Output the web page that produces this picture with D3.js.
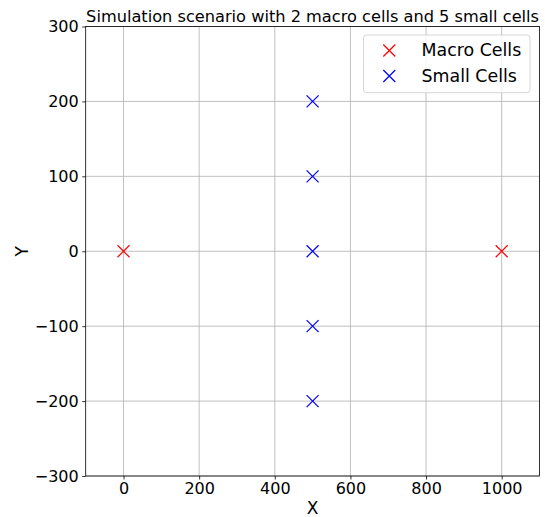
<!DOCTYPE html>
<html>
<head>
<meta charset="utf-8">
<script src="https://cdn.jsdelivr.net/npm/d3@7"></script>
<style>
  html, body { margin: 0; padding: 0; background: #fff; }
  text { font-family: "DejaVu Sans", sans-serif; }
</style>
</head>
<body>
<svg id="chart" width="545" height="517"></svg>
<script>
// Cell positions (x, y)
const macroX = [0, 1000];
const macroY = [0, 0];
const smallX = [500, 500, 500, 500, 500];
const smallY = [200, 100, 0, -100, -200];

const xTicks = [0, 200, 400, 600, 800, 1000];
const yTicks = [-300, -200, -100, 0, 100, 200, 300];

const seriesNames = ["Macro Cells", "Small Cells"];
const seriesColors = ["#ff0000", "#0000ff"];

const titleText = "Simulation scenario with 2 macro cells and 5 small cells";

const svg = d3.select("#chart");
const m = { left: 85.7, right: 539.5, top: 26.5, bottom: 476 };

const x = d3.scaleLinear().domain([-100, 1100]).range([m.left, m.right]);
const y = d3.scaleLinear().domain([-300, 300]).range([m.bottom, m.top]);

// grid
const grid = svg.append("g");
grid.selectAll("line.gx").data(xTicks).join("line")
  .attr("x1", d => x(d)).attr("x2", d => x(d))
  .attr("y1", m.top).attr("y2", m.bottom)
  .attr("stroke", "#b0b0b0").attr("stroke-width", 0.8);
grid.selectAll("line.gy").data(yTicks).join("line")
  .attr("y1", d => y(d)).attr("y2", d => y(d))
  .attr("x1", m.left).attr("x2", m.right)
  .attr("stroke", "#b0b0b0").attr("stroke-width", 0.8);

// axes
const xAxis = d3.axisBottom(x).tickValues(xTicks).tickSize(3.5).tickPadding(3.5)
  .tickFormat(d => d3.format("d")(d));
const yAxis = d3.axisLeft(y).tickValues(yTicks).tickSize(3.5).tickPadding(3.5)
  .tickFormat(d => (d < 0 ? "\u2212" + Math.abs(d) : String(d)));

const gx = svg.append("g").attr("transform", `translate(0,${m.bottom})`).call(xAxis);
const gy = svg.append("g").attr("transform", `translate(${m.left},0)`).call(yAxis);
[gx, gy].forEach(g => {
  g.select(".domain").remove();
  g.selectAll(".tick line").attr("stroke", "#000").attr("stroke-width", 0.8);
  g.selectAll(".tick text").attr("fill", "#000").style("font-size", "16px")
    .style("font-family", "DejaVu Sans, sans-serif");
});

// frame
svg.append("rect")
  .attr("x", m.left).attr("y", m.top)
  .attr("width", m.right - m.left).attr("height", m.bottom - m.top)
  .attr("fill", "none").attr("stroke", "#000").attr("stroke-width", 0.8);

// markers
function cross(g, cx, cy, color, r) {
  g.append("path")
    .attr("d", `M${cx - r},${cy - r}L${cx + r},${cy + r}M${cx - r},${cy + r}L${cx + r},${cy - r}`)
    .attr("stroke", color).attr("stroke-width", 1.2).attr("fill", "none");
}
const marks = svg.append("g");
const series = [
  { xs: macroX, ys: macroY, color: seriesColors[0] },
  { xs: smallX, ys: smallY, color: seriesColors[1] }
];
series.forEach(s => {
  s.xs.forEach((vx, i) => cross(marks, x(vx), y(s.ys[i]), s.color, 6));
});

// title
svg.append("text")
  .attr("x", (m.left + m.right) / 2).attr("y", 21.7)
  .attr("text-anchor", "middle").style("font-size", "16.2px").attr("fill", "#000")
  .text(titleText);

// axis labels
svg.append("text")
  .attr("x", (m.left + m.right) / 2).attr("y", 514)
  .attr("text-anchor", "middle").style("font-size", "17px").text("X");
svg.append("text")
  .attr("transform", `translate(28,${(m.top + m.bottom) / 2}) rotate(-90)`)
  .attr("text-anchor", "middle").style("font-size", "17px").text("Y");

// legend
const lg = svg.append("g");
lg.append("rect")
  .attr("x", 363.5).attr("y", 35).attr("width", 166.5).attr("height", 57.7)
  .attr("rx", 3).attr("fill", "#fff").attr("fill-opacity", 0.8)
  .attr("stroke", "#cccccc").attr("stroke-width", 0.8);
seriesNames.forEach((name, i) => {
  const ly = 50.5 + i * 25.5;
  cross(lg, 389.3, ly, seriesColors[i], 6);
  lg.append("text").attr("x", 421.5).attr("y", ly + 5.8)
    .style("font-size", "17.4px").attr("fill", "#000").text(name);
});
</script>
</body>
</html>
